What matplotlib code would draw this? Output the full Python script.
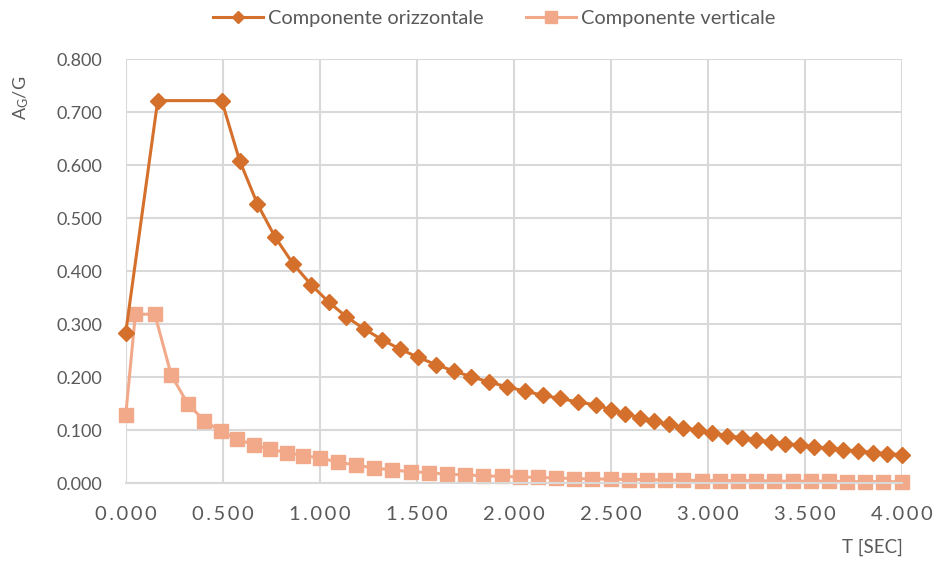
import matplotlib
matplotlib.use("Agg")
import matplotlib.pyplot as plt
from matplotlib.ticker import MultipleLocator, FuncFormatter

plt.rcParams['font.family'] = ['Lato', 'DejaVu Sans']
plt.rcParams['mathtext.default'] = 'regular'

# horizontal component: period [s] and spectral acceleration [g]
t_oriz = [0.000, 0.165, 0.495,
          0.587, 0.679, 0.771, 0.863, 0.955, 1.046, 1.138, 1.230, 1.322, 1.414,
          1.506, 1.598, 1.690, 1.782, 1.873, 1.965, 2.057, 2.149, 2.241, 2.333, 2.424,
          2.499, 2.574, 2.649, 2.724, 2.799, 2.874, 2.949, 3.024, 3.099, 3.175,
          3.250, 3.325, 3.400, 3.475, 3.550, 3.625, 3.700, 3.775, 3.850, 3.925, 4.000]
a_oriz = [0.284, 0.722, 0.722,
          0.609, 0.527, 0.464, 0.414, 0.375, 0.342, 0.314, 0.291, 0.271, 0.253,
          0.238, 0.224, 0.212, 0.201, 0.191, 0.182, 0.174, 0.166, 0.160, 0.153, 0.148,
          0.139, 0.131, 0.124, 0.117, 0.111, 0.105, 0.100, 0.095, 0.090, 0.086,
          0.082, 0.078, 0.075, 0.072, 0.069, 0.066, 0.063, 0.061, 0.058, 0.056, 0.054]

# vertical component
t_vert = [0.000, 0.050, 0.150,
          0.235, 0.320, 0.405, 0.490, 0.575, 0.660, 0.745, 0.830, 0.915, 1.000,
          1.094, 1.188, 1.281, 1.375, 1.469, 1.563, 1.656, 1.750, 1.844, 1.938,
          2.031, 2.125, 2.219, 2.313, 2.406, 2.500, 2.594, 2.688, 2.781, 2.875,
          2.969, 3.063, 3.156, 3.250, 3.344, 3.438, 3.531, 3.625, 3.719, 3.813,
          3.906, 4.000]
a_vert = [0.128, 0.319, 0.319,
          0.204, 0.150, 0.118, 0.098, 0.083, 0.073, 0.064, 0.058, 0.052, 0.048,
          0.040, 0.034, 0.029, 0.025, 0.022, 0.020, 0.017, 0.016, 0.014, 0.013,
          0.012, 0.011, 0.010, 0.009, 0.008, 0.008, 0.007, 0.007, 0.006, 0.006,
          0.005, 0.005, 0.005, 0.005, 0.004, 0.004, 0.004, 0.004, 0.003, 0.003,
          0.003, 0.003]

col_oriz = '#D4702C'
col_vert = '#F2A98A'
grid_col = '#D9D9D9'
text_col = '#595959'

fig = plt.figure(figsize=(9.38, 5.63), dpi=100)
ax = fig.add_axes([0.134, 0.1416, 0.8273, 0.7531])

ax.plot(t_oriz, a_oriz, color=col_oriz, lw=2.2, marker='D', ms=8,
        mec=col_oriz, mfc=col_oriz, label='Componente orizzontale',
        zorder=3, clip_on=False)
ax.plot(t_vert, a_vert, color=col_vert, lw=2.2, marker='s', ms=10,
        mec=col_vert, mfc=col_vert, label='Componente verticale',
        zorder=2, clip_on=False)

ax.set_xlim(0, 4)
ax.set_ylim(0, 0.8)
ax.xaxis.set_major_locator(MultipleLocator(0.5))
ax.yaxis.set_major_locator(MultipleLocator(0.1))
spaced = lambda v, p: '\u2009'.join('%.3f' % v)
ax.xaxis.set_major_formatter(FuncFormatter(spaced))
ax.yaxis.set_major_formatter(FuncFormatter(lambda v, p: '%.3f' % v))
ax.grid(True, color=grid_col, lw=1.5)
ax.set_axisbelow(True)
for s in ['top', 'right', 'left']:
    ax.spines[s].set_visible(False)
ax.spines['bottom'].set_color(grid_col)
ax.spines['bottom'].set_linewidth(1.5)
ax.tick_params(length=0, colors=text_col)
ax.tick_params(axis='y', labelsize=13, pad=17)
ax.tick_params(axis='x', labelsize=14.5, pad=16)

fig.text(0.023, 0.827, 'A$_G$/G', rotation=90, ha='center', va='center',
         fontsize=13, color=text_col)
fig.text(0.93, 0.012, 'T [SEC]', ha='center', va='bottom', fontsize=13.5,
         color=text_col)

leg = fig.legend(loc='upper center', bbox_to_anchor=(0.527, 1.014), ncol=2,
                 frameon=False, fontsize=14.4, handlelength=2.5,
                 columnspacing=2.1, handletextpad=0.25, markerscale=0.8)
for t in leg.get_texts():
    t.set_color(text_col)

fig.savefig('out.png', dpi=100)
